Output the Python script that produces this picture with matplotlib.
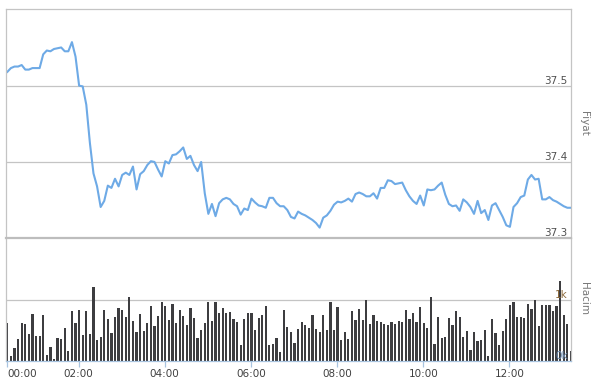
import matplotlib
matplotlib.use('Agg')
import matplotlib.pyplot as plt
import matplotlib.transforms as mtransforms
import numpy as np

# 5 dakikalik veriler (fiyat ve hacim)
fiyat = [37.518, 37.523, 37.525, 37.525, 37.527, 37.521, 37.521, 37.523, 37.523, 37.523,
         37.541, 37.546, 37.545, 37.548, 37.549, 37.550, 37.545, 37.545, 37.557, 37.538,
         37.500, 37.499, 37.475, 37.425, 37.385, 37.368, 37.341, 37.349, 37.369, 37.366,
         37.378, 37.368, 37.383, 37.386, 37.383, 37.394, 37.364, 37.384, 37.388, 37.396,
         37.401, 37.400, 37.390, 37.381, 37.401, 37.398, 37.409, 37.410, 37.414, 37.419,
         37.404, 37.408, 37.396, 37.388, 37.400, 37.359, 37.332, 37.345, 37.329, 37.346,
         37.351, 37.353, 37.351, 37.345, 37.342, 37.331, 37.339, 37.337, 37.352, 37.347,
         37.343, 37.342, 37.340, 37.353, 37.353, 37.346, 37.342, 37.342, 37.337, 37.328,
         37.326, 37.335, 37.332, 37.330, 37.327, 37.324, 37.320, 37.314, 37.327, 37.330,
         37.336, 37.344, 37.348, 37.347, 37.349, 37.352, 37.348, 37.358, 37.360, 37.358,
         37.355, 37.355, 37.359, 37.352, 37.366, 37.366, 37.376, 37.375, 37.371, 37.372,
         37.373, 37.363, 37.355, 37.349, 37.345, 37.356, 37.343, 37.364, 37.363, 37.364,
         37.369, 37.373, 37.357, 37.345, 37.342, 37.343, 37.336, 37.351, 37.347, 37.341,
         37.332, 37.349, 37.333, 37.337, 37.324, 37.343, 37.346, 37.337, 37.328, 37.317,
         37.315, 37.341, 37.346, 37.354, 37.356, 37.377, 37.383, 37.377, 37.378, 37.351,
         37.351, 37.354, 37.350, 37.348, 37.345, 37.342, 37.340, 37.340]

hacim = [621, 77, 209, 357, 621, 604, 440, 769, 407, 407,
         753, 93, 225, 27, 374, 357, 538, 159, 819, 621,
         835, 423, 819, 440, 1198, 341, 390, 835, 687, 456,
         720, 868, 835, 720, 1049, 654, 473, 769, 489, 621,
         901, 571, 736, 951, 901, 670, 934, 621, 835, 736,
         588, 868, 703, 374, 505, 621, 951, 654, 951, 786,
         868, 786, 802, 687, 637, 258, 687, 786, 786, 505,
         703, 753, 901, 258, 275, 374, 143, 835, 555, 473,
         291, 522, 637, 588, 538, 753, 522, 473, 753, 505,
         951, 505, 885, 341, 473, 357, 819, 670, 852, 670,
         1000, 604, 753, 654, 637, 604, 588, 637, 604, 654,
         637, 835, 687, 786, 637, 885, 621, 538, 1033, 275,
         720, 374, 390, 703, 588, 819, 720, 390, 489, 176,
         473, 324, 341, 505, 77, 687, 456, 258, 489, 687,
         918, 951, 720, 720, 703, 934, 852, 1000, 571, 918,
         918, 918, 819, 901, 1300, 753, 604, 159]

baslangic = 0.346          # ilk verinin saati (saat cinsinden)
adim = 5 / 60              # 5 dakika
saat = baslangic + adim * np.arange(len(fiyat))

tick_saat = [baslangic, 2, 4, 6, 8, 10, 12]
tick_etiket = ['00:00', '02:00', '04:00', '06:00', '08:00', '10:00', '12:00']
fiyat_seviye = [37.3, 37.4, 37.5]

W, H = 592, 382
fig = plt.figure(figsize=(W / 100, H / 100), dpi=100)
sol, sag = 5.7 / W, 571.3 / W
ax2 = fig.add_axes([sol, 1 - 360.7 / H, sag - sol, (360.7 - 238.3) / H])
ax1 = fig.add_axes([sol, 1 - 238.3 / H, sag - sol, (238.3 - 9.3) / H])
ax1.set_zorder(3)
ax1.patch.set_visible(False)

xlim = (baslangic - 0.45 * adim, baslangic + 157.1 * adim)
grid_renk = '#c4c4c4'

# fiyat paneli
ax1.plot(saat, fiyat, color='#6eaae6', lw=1.5, solid_joinstyle='round')
ax1.set_xlim(xlim)
ax1.set_ylim(37.3, 37.6)
ax1.set_xticks([])
ax1.set_yticks([])
for v in fiyat_seviye[1:]:
    ax1.axhline(v, color=grid_renk, lw=0.9, zorder=0)
tr = mtransforms.blended_transform_factory(ax1.transAxes, ax1.transData)
for v in fiyat_seviye:
    ax1.text(0.993, v, f'{v:.1f}', transform=tr, ha='right', va='bottom',
             fontsize=7.5, color='#505050')
for s in ['top', 'left', 'right']:
    ax1.spines[s].set_color(grid_renk)
    ax1.spines[s].set_linewidth(0.9)
ax1.spines['bottom'].set_color('#bdbdbd')
ax1.spines['bottom'].set_linewidth(1.6)

# hacim paneli
ax2.bar(saat, hacim, width=adim * 0.62, color='#3d3d40', linewidth=0,
        antialiased=False, zorder=2)
ax2.set_xlim(xlim)
ax2.set_ylim(0, 2000)
ax2.axhline(1000, color=grid_renk, lw=0.9, zorder=0)
ax2.set_yticks([])
ax2.set_xticks(tick_saat)
ax2.set_xticklabels(tick_etiket, fontsize=7.5, color='#404040')
ax2.get_xticklabels()[0].set_horizontalalignment('left')
ax2.tick_params(axis='x', direction='out', length=4.3, width=0.9,
                color='#a8c4e0', pad=2)
ax2.spines['top'].set_visible(False)
for s in ['left', 'right']:
    ax2.spines[s].set_color(grid_renk)
    ax2.spines[s].set_linewidth(0.9)
ax2.spines['bottom'].set_color('#a8c4e0')
ax2.spines['bottom'].set_linewidth(0.9)
tr2 = mtransforms.blended_transform_factory(ax2.transAxes, ax2.transData)
ax2.text(0.9935, 1000, '1k', transform=tr2, ha='right', va='bottom',
         fontsize=7.5, color='#8c6a3c', zorder=3)
ax2.text(0.9935, 0, '0k', transform=tr2, ha='right', va='bottom',
         fontsize=7.5, color='#6f8fb5', zorder=3)

fig.text(583.7 / W, 1 - 123 / H, 'Fiyat', rotation=-90, ha='center', va='center',
         fontsize=7.5, color='#777777')
fig.text(583.7 / W, 1 - 299 / H, 'Hacim', rotation=-90, ha='center', va='center',
         fontsize=7.5, color='#777777')

fig.savefig('out.png', dpi=100)
